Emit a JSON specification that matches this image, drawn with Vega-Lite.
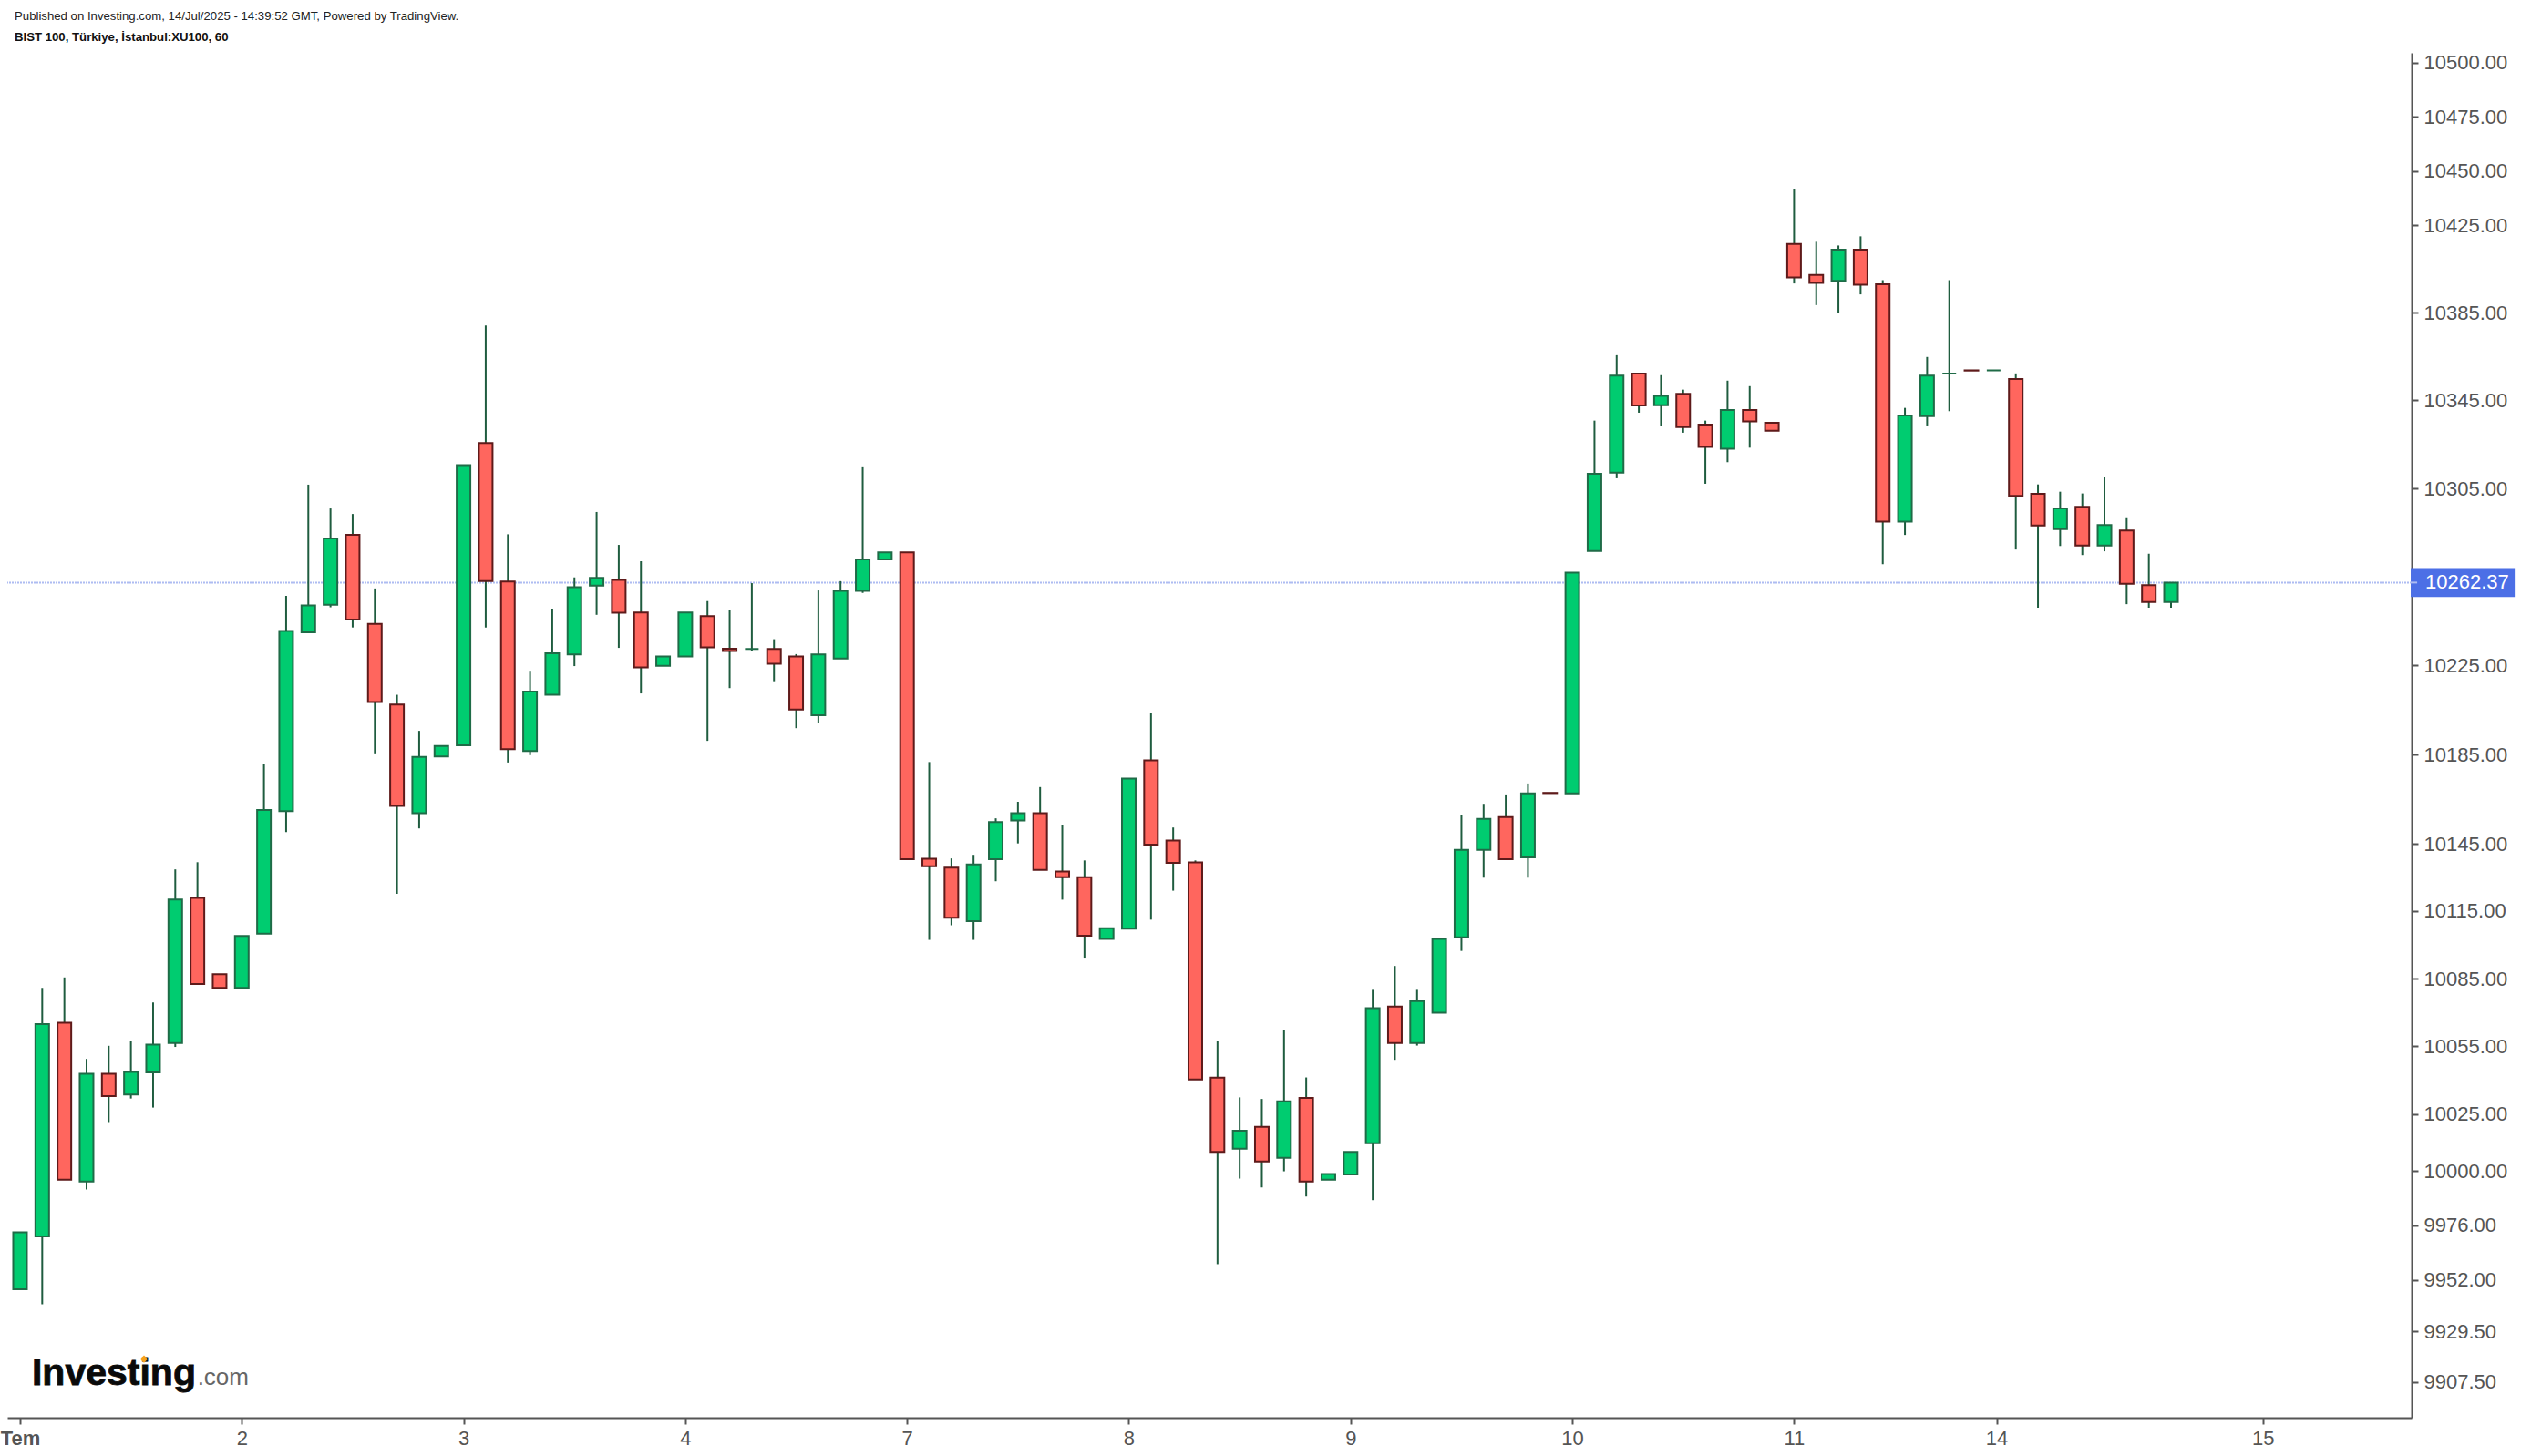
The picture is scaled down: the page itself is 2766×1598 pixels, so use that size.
{
  "$schema": "https://vega.github.io/schema/vega-lite/v6.json",
  "description": "BIST 100 hourly candles, July 2025",
  "width": 2638, "height": 1498,
  "autosize": "none",
  "padding": {"left": 8, "top": 58, "right": 120, "bottom": 42},
  "background": "white",
  "title": {
    "text": "Published on Investing.com, 14/Jul/2025 - 14:39:52 GMT, Powered by TradingView.",
    "subtitle": "BIST 100, Türkiye, İstanbul:XU100, 60",
    "anchor": "start", "frame": "group", "dx": 8, "offset": 10,
    "font": "Liberation Sans", "fontSize": 13.2, "fontWeight": "normal", "color": "#222222",
    "subtitleFont": "Liberation Sans", "subtitleFontSize": 13.2, "subtitleFontWeight": "bold", "subtitleColor": "#111111", "subtitlePadding": 9
  },
  "config": {"view": {"stroke": null}},
  "datasets": {
    "candles": [
      {"bar":0,"open":9948.0,"high":9973.0,"low":9948.0,"close":9973.0},
      {"bar":1,"open":9971.2,"high":10080.9,"low":9941.4,"close":10064.8},
      {"bar":2,"open":10065.4,"high":10085.5,"low":9996.1,"close":9996.1},
      {"bar":3,"open":9995.3,"high":10049.4,"low":9991.8,"close":10042.8},
      {"bar":4,"open":10042.8,"high":10055.2,"low":10021.5,"close":10033.0},
      {"bar":5,"open":10033.7,"high":10057.5,"low":10031.9,"close":10043.6},
      {"bar":6,"open":10043.4,"high":10074.4,"low":10027.9,"close":10055.7},
      {"bar":7,"open":10056.4,"high":10133.6,"low":10054.7,"close":10120.2},
      {"bar":8,"open":10120.9,"high":10136.8,"low":10082.6,"close":10082.6},
      {"bar":9,"open":10086.9,"high":10086.9,"low":10080.9,"close":10080.9},
      {"bar":10,"open":10080.9,"high":10103.9,"low":10080.9,"close":10103.9},
      {"bar":11,"open":10105.0,"high":10180.9,"low":10105.0,"close":10160.1},
      {"bar":12,"open":10159.6,"high":10256.4,"low":10150.3,"close":10240.5},
      {"bar":13,"open":10239.9,"high":10306.7,"low":10239.9,"close":10252.0},
      {"bar":14,"open":10252.3,"high":10295.9,"low":10251.2,"close":10282.3},
      {"bar":15,"open":10284.0,"high":10293.4,"low":10242.1,"close":10245.7},
      {"bar":16,"open":10243.7,"high":10259.7,"low":10185.5,"close":10208.5},
      {"bar":17,"open":10207.4,"high":10211.8,"low":10122.7,"close":10162.0},
      {"bar":18,"open":10158.7,"high":10195.6,"low":10151.9,"close":10183.9},
      {"bar":19,"open":10184.1,"high":10188.8,"low":10184.1,"close":10188.8},
      {"bar":20,"open":10189.1,"high":10315.6,"low":10189.1,"close":10315.6},
      {"bar":21,"open":10325.6,"high":10379.2,"low":10242.1,"close":10263.0},
      {"bar":22,"open":10262.8,"high":10284.2,"low":10181.4,"close":10187.4},
      {"bar":23,"open":10186.6,"high":10222.6,"low":10184.7,"close":10213.2},
      {"bar":24,"open":10211.8,"high":10250.6,"low":10211.8,"close":10230.5},
      {"bar":25,"open":10230.0,"high":10264.7,"low":10224.7,"close":10260.3},
      {"bar":26,"open":10261.0,"high":10294.3,"low":10247.8,"close":10264.5},
      {"bar":27,"open":10263.6,"high":10279.4,"low":10232.9,"close":10248.7},
      {"bar":28,"open":10248.9,"high":10272.0,"low":10212.4,"close":10224.1},
      {"bar":29,"open":10224.8,"high":10229.0,"low":10224.8,"close":10229.0},
      {"bar":30,"open":10229.0,"high":10248.9,"low":10229.0,"close":10248.9},
      {"bar":31,"open":10247.2,"high":10254.0,"low":10191.1,"close":10233.1},
      {"bar":32,"open":10232.5,"high":10249.8,"low":10214.8,"close":10231.5},
      {"bar":33,"open":10232.4,"high":10262.1,"low":10231.3,"close":10232.4},
      {"bar":34,"open":10232.4,"high":10236.8,"low":10217.9,"close":10225.8},
      {"bar":35,"open":10229.0,"high":10230.1,"low":10196.8,"close":10205.2},
      {"bar":36,"open":10202.6,"high":10258.8,"low":10199.2,"close":10230.0},
      {"bar":37,"open":10228.1,"high":10263.0,"low":10228.1,"close":10258.6},
      {"bar":38,"open":10258.6,"high":10315.0,"low":10257.7,"close":10272.8},
      {"bar":39,"open":10272.8,"high":10276.0,"low":10272.8,"close":10276.0},
      {"bar":40,"open":10276.0,"high":10276.0,"low":10138.1,"close":10138.1},
      {"bar":41,"open":10138.3,"high":10181.6,"low":10102.2,"close":10135.0},
      {"bar":42,"open":10134.4,"high":10138.5,"low":10108.7,"close":10112.1},
      {"bar":43,"open":10110.5,"high":10140.1,"low":10102.2,"close":10135.8},
      {"bar":44,"open":10138.1,"high":10156.4,"low":10128.3,"close":10154.7},
      {"bar":45,"open":10155.4,"high":10163.8,"low":10145.2,"close":10158.7},
      {"bar":46,"open":10158.7,"high":10170.4,"low":10133.4,"close":10133.4},
      {"bar":47,"open":10132.7,"high":10153.4,"low":10120.1,"close":10130.1},
      {"bar":48,"open":10130.1,"high":10137.6,"low":10094.3,"close":10104.0},
      {"bar":49,"open":10102.6,"high":10107.4,"low":10102.6,"close":10107.4},
      {"bar":50,"open":10107.2,"high":10174.2,"low":10107.2,"close":10174.2},
      {"bar":51,"open":10182.4,"high":10203.6,"low":10111.2,"close":10144.7},
      {"bar":52,"open":10146.5,"high":10152.3,"low":10124.1,"close":10136.5},
      {"bar":53,"open":10136.7,"high":10137.6,"low":10040.3,"close":10040.3},
      {"bar":54,"open":10041.1,"high":10057.5,"low":9959.0,"close":10008.3},
      {"bar":55,"open":10009.7,"high":10032.4,"low":9996.6,"close":10017.7},
      {"bar":56,"open":10019.4,"high":10031.7,"low":9992.7,"close":10004.1},
      {"bar":57,"open":10005.7,"high":10062.3,"low":9999.8,"close":10030.6},
      {"bar":58,"open":10032.2,"high":10041.2,"low":9988.7,"close":9995.3},
      {"bar":59,"open":9996.1,"high":9998.6,"low":9996.1,"close":9998.6},
      {"bar":60,"open":9998.4,"high":10008.3,"low":9998.4,"close":10008.3},
      {"bar":61,"open":10012.2,"high":10080.0,"low":9987.1,"close":10071.9},
      {"bar":62,"open":10072.6,"high":10090.6,"low":10049.0,"close":10056.4},
      {"bar":63,"open":10056.4,"high":10080.0,"low":10055.3,"close":10075.0},
      {"bar":64,"open":10069.9,"high":10102.6,"low":10069.9,"close":10102.6},
      {"bar":65,"open":10103.3,"high":10158.0,"low":10097.3,"close":10142.3},
      {"bar":66,"open":10142.3,"high":10162.9,"low":10129.9,"close":10156.2},
      {"bar":67,"open":10157.0,"high":10167.1,"low":10138.1,"close":10138.1},
      {"bar":68,"open":10139.0,"high":10172.0,"low":10129.9,"close":10167.6},
      {"bar":69,"open":10167.8,"high":10167.8,"low":10167.8,"close":10167.7},
      {"bar":70,"open":10167.6,"high":10266.9,"low":10167.6,"close":10266.9},
      {"bar":71,"open":10276.6,"high":10335.8,"low":10276.6,"close":10311.6},
      {"bar":72,"open":10312.2,"high":10365.6,"low":10309.6,"close":10356.3},
      {"bar":73,"open":10357.2,"high":10357.2,"low":10339.4,"close":10342.7},
      {"bar":74,"open":10342.8,"high":10356.5,"low":10333.4,"close":10347.1},
      {"bar":75,"open":10348.0,"high":10349.9,"low":10330.3,"close":10332.9},
      {"bar":76,"open":10334.0,"high":10335.8,"low":10307.1,"close":10323.8},
      {"bar":77,"open":10323.0,"high":10354.0,"low":10316.9,"close":10340.6},
      {"bar":78,"open":10340.6,"high":10351.5,"low":10323.5,"close":10335.4},
      {"bar":79,"open":10334.8,"high":10334.8,"low":10331.2,"close":10331.2},
      {"bar":80,"open":10416.5,"high":10441.9,"low":10398.4,"close":10401.2},
      {"bar":81,"open":10402.3,"high":10417.5,"low":10388.5,"close":10398.7},
      {"bar":82,"open":10399.6,"high":10415.8,"low":10385.1,"close":10413.9},
      {"bar":83,"open":10413.9,"high":10420.0,"low":10393.4,"close":10397.8},
      {"bar":84,"open":10398.0,"high":10399.9,"low":10270.7,"close":10289.9},
      {"bar":85,"open":10289.9,"high":10341.6,"low":10283.9,"close":10338.1},
      {"bar":86,"open":10337.8,"high":10364.8,"low":10333.6,"close":10356.3},
      {"bar":87,"open":10357.2,"high":10399.9,"low":10340.1,"close":10357.2},
      {"bar":88,"open":10358.7,"high":10358.7,"low":10358.7,"close":10358.6},
      {"bar":89,"open":10358.7,"high":10358.7,"low":10358.7,"close":10358.7},
      {"bar":90,"open":10354.7,"high":10357.3,"low":10277.3,"close":10301.6},
      {"bar":91,"open":10302.5,"high":10306.8,"low":10251.0,"close":10288.2},
      {"bar":92,"open":10286.5,"high":10303.5,"low":10278.9,"close":10295.9},
      {"bar":93,"open":10296.7,"high":10302.7,"low":10274.8,"close":10279.1},
      {"bar":94,"open":10279.1,"high":10310.1,"low":10276.5,"close":10288.4},
      {"bar":95,"open":10285.9,"high":10291.9,"low":10252.6,"close":10261.8},
      {"bar":96,"open":10261.2,"high":10275.4,"low":10251.0,"close":10253.6},
      {"bar":97,"open":10253.6,"high":10262.37,"low":10251.0,"close":10262.37}
    ]
  },
  "layer": [
    {
      "data": {"values": [{"last": 10262.37}]},
      "mark": {"type": "rule", "color": "#aebcf2", "strokeWidth": 2, "strokeDash": [2, 1]},
      "encoding": {"y": {"field": "last", "type": "quantitative"}}
    },
    {
      "data": {"name": "candles"},
      "mark": {"type": "rule", "color": "#1f5c3f", "strokeWidth": 2},
      "encoding": {
        "x": {
          "field": "bar", "type": "quantitative", "title": null,
          "scale": {"domain": [-0.575, 107.85], "nice": false, "zero": false, "padding": 0},
          "axis": {
            "orient": "bottom", "grid": false, "title": null,
            "values": [0, 10, 20, 30, 40, 50, 60, 70, 80, 89.13, 101.14],
            "labelExpr": "{'0':'Tem','10':'2','20':'3','30':'4','40':'7','50':'8','60':'9','70':'10','80':'11','89.13':'14','101.14':'15'}[datum.value]",
            "labelFont": "Liberation Sans", "labelFontSize": 22, "labelColor": "#555555", "labelPadding": 5,
            "labelFontWeight": {"condition": {"test": "datum.value == 0", "value": "bold"}, "value": "normal"},
            "labelOverlap": false, "labelFlush": false, "labelBound": false,
            "domainColor": "#555555", "domainWidth": 2,
            "tickColor": "#555555", "tickWidth": 2, "tickSize": 7
          }
        },
        "y": {
          "field": "low", "type": "quantitative", "title": null,
          "scale": {"type": "log", "domain": [9891.9, 10504.51], "nice": false, "zero": false},
          "axis": {
            "orient": "right", "grid": false, "title": null,
            "values": [10500, 10475, 10450, 10425, 10385, 10345, 10305, 10225, 10185, 10145, 10115, 10085, 10055, 10025, 10000, 9976, 9952, 9929.5, 9907.5],
            "format": ".2f",
            "labelFont": "Liberation Sans", "labelFontSize": 22, "labelColor": "#555555", "labelPadding": 6,
            "labelOverlap": false, "labelFlush": false, "labelBound": false,
            "domainColor": "#555555", "domainWidth": 2,
            "tickColor": "#555555", "tickWidth": 2, "tickSize": 7
          }
        },
        "y2": {"field": "high"}
      }
    },
    {
      "data": {"name": "candles"},
      "mark": {"type": "bar", "size": 15, "strokeWidth": 2},
      "encoding": {
        "x": {"field": "bar", "type": "quantitative"},
        "y": {"field": "open", "type": "quantitative"},
        "y2": {"field": "close"},
        "fill": {"condition": {"test": "datum.close >= datum.open", "value": "#00cc70"}, "value": "#ff665e"},
        "stroke": {"condition": {"test": "datum.close >= datum.open", "value": "#1f6b47"}, "value": "#5e1a1a"}
      }
    },
    {
      "data": {"values": [{"label": "Investing"}]},
      "mark": {"type": "text", "align": "left", "baseline": "alphabetic", "font": "Liberation Sans", "fontWeight": "bold", "fontSize": 41, "color": "#0a0a0a", "stroke": "#0a0a0a", "strokeWidth": 0.8},
      "encoding": {"x": {"datum": 0.534}, "y": {"datum": 9906}, "text": {"field": "label"}}
    },
    {
      "data": {"values": [{"label": ".com"}]},
      "mark": {"type": "text", "align": "left", "baseline": "alphabetic", "font": "Liberation Sans", "fontSize": 26, "color": "#666666"},
      "encoding": {"x": {"datum": 8.0}, "y": {"datum": 9906}, "text": {"field": "label"}}
    },
    {
      "data": {"values": [{"label": "logo dot"}]},
      "mark": {"type": "point", "filled": true, "shape": "diamond", "size": 70, "color": "#f7a11a", "opacity": 1},
      "encoding": {"x": {"datum": 5.59}, "y": {"datum": 9917.5}}
    },
    {
      "data": {"values": [{"label": "last price box"}]},
      "mark": {"type": "rect", "color": "#4c6fe6"},
      "encoding": {"x": {"datum": 107.81}, "x2": {"datum": 112.5}, "y": {"datum": 10268.9}, "y2": {"datum": 10255.8}}
    },
    {
      "data": {"values": [{"last": 10262.37}]},
      "mark": {"type": "rule", "color": "#aebcf2", "strokeWidth": 2},
      "encoding": {"x": {"datum": 107.81}, "x2": {"datum": 108.1}, "y": {"field": "last", "type": "quantitative"}}
    },
    {
      "data": {"values": [{"last": 10262.37, "label": "10262.37"}]},
      "mark": {"type": "text", "align": "left", "baseline": "middle", "font": "Liberation Sans", "fontSize": 22, "color": "white"},
      "encoding": {"x": {"datum": 108.47}, "y": {"field": "last", "type": "quantitative"}, "text": {"field": "label"}}
    }
  ]
}
